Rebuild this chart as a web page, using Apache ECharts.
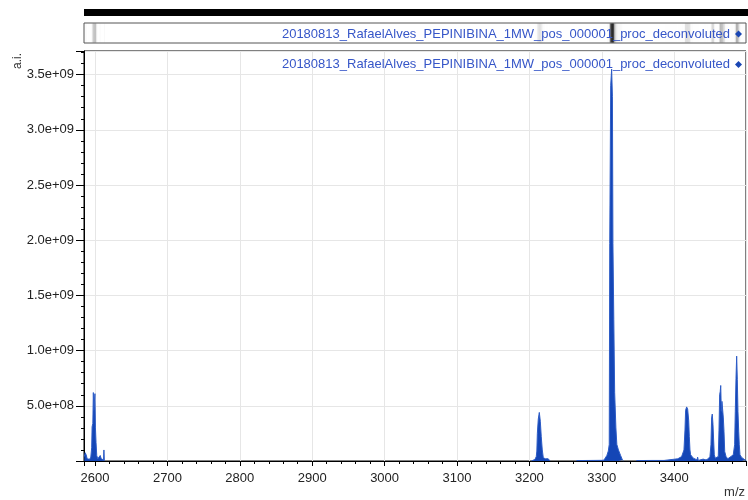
<!DOCTYPE html>
<html><head><meta charset="utf-8">
<script src="https://cdn.jsdelivr.net/npm/echarts@6/dist/echarts.min.js"></script>
<style>html,body{margin:0;padding:0;background:#fff}#c{width:748px;height:500px}</style>
</head><body><div id="c"></div>
<script>
const seriesName = '20180813_RafaelAlves_PEPINIBINA_1MW_pos_000001_proc_deconvoluted';
const xAxisName = 'm/z';
const yAxisName = 'a.i.';

// [m/z, intensity]
const cluster2598 = [
  [2585.3, 0.4e8], [2586.5, 0.75e8], [2587.8, 0.55e8], [2589.2, 0.2e8], [2590.8, 0.3e8],
  [2592.5, 0.15e8], [2594.2, 0.35e8], [2595.4, 1.2e8], [2596.0, 3.1e8], [2597.0, 3.4e8],
  [2597.7, 6.2e8], [2598.4, 4.6e8], [2599.2, 4.7e8], [2599.9, 6.1e8], [2600.6, 3.0e8],
  [2601.4, 1.7e8], [2602.4, 0.5e8], [2603.8, 0.2e8], [2605.5, 0.3e8], [2607.2, 0.5e8],
  [2608.6, 0.2e8], [2610.5, 0.05e8], [2611.8, 0.1e8], [2612.3, 1.0e8], [2612.9, 0.02e8]
];
const cluster3214 = [
  [3203.0, 0.01e8], [3205.5, 0.05e8], [3207.7, 0.14e8], [3209.5, 0.4e8], [3210.3, 0.9e8],
  [3211.0, 2.5e8], [3212.3, 3.8e8], [3213.7, 4.4e8], [3215.1, 3.6e8], [3216.4, 2.2e8],
  [3217.8, 1.0e8], [3219.2, 0.3e8], [3222.0, 0.2e8], [3226.0, 0.2e8], [3228.5, 0.01e8]
];
const plateau3265 = [[3265.3, 0.04e8], [3285.0, 0.05e8], [3300.0, 0.06e8]];
const cluster3313 = [
  [3303.0, 0.08e8], [3305.0, 0.2e8], [3307.0, 0.5e8], [3309.0, 0.9e8], [3310.3, 1.5e8],
  [3311.0, 1.97e9], [3312.3, 3.4e9], [3313.6, 3.55e9], [3314.7, 3.3e9], [3315.4, 1.97e9],
  [3316.6, 1.28e9], [3317.8, 0.62e9], [3319.5, 0.3e9], [3320.8, 0.15e9], [3323.0, 0.1e9],
  [3326.0, 0.05e9], [3328.5, 0.01e9], [3330.0, 0.002e9]
];
const plateau3350 = [[3348.0, 0.04e8], [3370.0, 0.05e8], [3386.0, 0.05e8], [3387.0, 0.17e8], [3405.0, 0.2e8]];
const cluster3417 = [
  [3407.1, 0.26e8], [3410.3, 0.4e8], [3413.5, 1.0e8], [3414.9, 2.8e8], [3415.8, 4.6e8],
  [3417.2, 4.9e8], [3418.6, 4.7e8], [3420.0, 3.7e8], [3420.9, 2.2e8], [3421.8, 1.0e8],
  [3422.7, 0.56e8], [3424.6, 0.4e8], [3426.4, 0.26e8], [3428.7, 0.17e8], [3431.5, 0.1e8],
  [3432.4, 0.35e8], [3433.3, 0.05e8], [3436.0, 0.05e8], [3440.0, 0.17e8], [3444.0, 0.1e8],
  [3447.0, 0.2e8]
];
const cluster3452 = [
  [3449.4, 0.41e8], [3450.8, 1.47e8], [3451.7, 3.9e8], [3452.6, 4.25e8], [3453.6, 3.3e8],
  [3454.5, 1.9e8], [3455.4, 0.56e8], [3456.8, 0.26e8], [3458.7, 0.2e8]
];
const cluster3464 = [
  [3460.9, 0.41e8], [3461.9, 2.8e8], [3462.8, 6.0e8], [3463.6, 6.3e8], [3464.3, 6.84e8],
  [3465.1, 4.5e8], [3466.0, 5.4e8], [3466.9, 5.3e8], [3467.9, 3.9e8], [3468.8, 2.7e8],
  [3469.8, 0.86e8], [3471.6, 0.41e8], [3474.0, 0.2e8], [3476.5, 0.3e8]
];
const cluster3486 = [
  [3478.5, 0.41e8], [3481.6, 0.56e8], [3483.5, 1.47e8], [3484.4, 4.5e8], [3485.4, 7.5e8],
  [3486.3, 9.5e8], [3487.2, 7.4e8], [3488.1, 4.5e8], [3489.1, 2.7e8], [3489.9, 1.47e8],
  [3490.9, 0.56e8], [3493.2, 0.32e8], [3497.8, 0.1e8], [3499.5, 0.05e8]
];

const segments = [
  cluster2598,
  cluster3214,
  plateau3265.concat(cluster3313),
  plateau3350.concat(cluster3417, cluster3452, cluster3464, cluster3486)
];

// main spectrum: segments separated by gaps
const spectrum = [];
segments.forEach((seg, i) => {
  if (i > 0) spectrum.push([seg[0][0] - 1, null]);
  seg.forEach(p => spectrum.push(p));
});
const allPoints = [].concat(...segments);
const peakIntensity = Math.max(...allPoints.map(p => p[1]));
const overviewData = allPoints.map((p, i) => [p[0], p[1], i + 1 < allPoints.length ? allPoints[i + 1][0] : p[0] + 1]);

const FONT = "'Liberation Sans', Arial, sans-serif";
const xMin = 2584.8, xMax = 3499.2, yMax = 3.714e9;

function expLabel(v) {
  if (v === 0) return '';
  const parts = v.toExponential(1).split('e');
  const sign = parts[1][0];
  let d = parts[1].slice(1);
  if (d.length < 2) d = '0' + d;
  return parts[0] + 'e' + sign + d;
}

const chart = echarts.init(document.getElementById('c'), null, {renderer: 'canvas'});
const legendBase = {
  data: [seriesName], right: 6, padding: 0, icon: 'diamond', itemWidth: 7, itemHeight: 7,
  align: 'right', selectedMode: false,
  textStyle: {color: '#3656c8', fontSize: 13, fontFamily: FONT, lineHeight: 14}
};
chart.setOption({
  animation: false,
  backgroundColor: '#fff',
  textStyle: {fontFamily: FONT},
  grid: [
    {left: 84, top: 51, width: 662, height: 410, show: true, borderColor: '#000', borderWidth: 1, backgroundColor: 'transparent'},
    {left: 84, top: 23, width: 662, height: 20, show: true, borderColor: '#555', borderWidth: 1, backgroundColor: 'transparent'}
  ],
  legend: [
    Object.assign({}, legendBase, {top: 57.5}),
    Object.assign({}, legendBase, {top: 27})
  ],
  xAxis: [
    {
      type: 'value', gridIndex: 0, min: xMin, max: xMax, splitNumber: 9, minInterval: 100, maxInterval: 100,
      axisLine: {lineStyle: {color: '#000', width: 1}},
      axisTick: {length: 5, lineStyle: {color: '#000'}},
      minorTick: {show: true, splitNumber: 5, length: 3, lineStyle: {color: '#000'}},
      axisLabel: {margin: 11, fontSize: 13, color: '#222', fontFamily: FONT, showMinLabel: false, showMaxLabel: false,
        formatter: v => String(Math.round(v))},
      splitLine: {show: true, lineStyle: {color: '#e6e6e6', width: 1}}
    },
    {type: 'value', gridIndex: 1, min: xMin, max: xMax, show: false}
  ],
  yAxis: [
    {
      type: 'value', gridIndex: 0, min: 0, max: yMax, interval: 5e8,
      axisLine: {show: true, lineStyle: {color: '#000', width: 1}},
      axisTick: {show: true, length: 8, lineStyle: {color: '#000'}},
      minorTick: {show: true, splitNumber: 5, length: 3, lineStyle: {color: '#000'}},
      axisLabel: {margin: 10, fontSize: 13, color: '#222', fontFamily: FONT, showMaxLabel: false, formatter: expLabel},
      splitLine: {show: true, lineStyle: {color: '#e6e6e6', width: 1}}
    },
    {type: 'value', gridIndex: 1, min: 0, max: 1, show: false}
  ],
  series: [
    {
      name: seriesName, type: 'line', xAxisIndex: 0, yAxisIndex: 0, data: spectrum,
      showSymbol: false, symbol: 'none', connectNulls: false, clip: true,
      color: '#1a46b4',
      lineStyle: {color: '#2d5cc6', width: 1},
      areaStyle: {color: '#1446b6', opacity: 1},
      silent: true
    },
    {
      name: seriesName, type: 'custom', xAxisIndex: 1, yAxisIndex: 1, data: overviewData,
      coordinateSystem: 'cartesian2d', silent: true, clip: true,
      encode: {x: 0, y: 1},
      renderItem: function (params, api) {
        const x0 = api.coord([api.value(0), 0])[0];
        const x1 = api.coord([api.value(2), 0])[0];
        const cs = params.coordSys;
        return {
          type: 'rect',
          shape: {x: x0, y: cs.y + 0.5, width: Math.max(1, x1 - x0), height: cs.height - 1},
          style: {fill: '#000', opacity: Math.min(1, api.value(1) / peakIntensity)}
        };
      }
    }
  ],
  graphic: [
    {type: 'rect', left: 84, top: 9, shape: {width: 664, height: 7}, style: {fill: '#000'}, silent: true},
    {type: 'text', x: 12, y: 69, rotation: Math.PI / 2,
      style: {text: yAxisName, fill: '#333', font: '12px ' + FONT, textAlign: 'left', textVerticalAlign: 'top'}},
    {type: 'text', right: 3, top: 486,
      style: {text: xAxisName, fill: '#333', font: '13px ' + FONT}}
  ]
});
</script>
</body></html>
